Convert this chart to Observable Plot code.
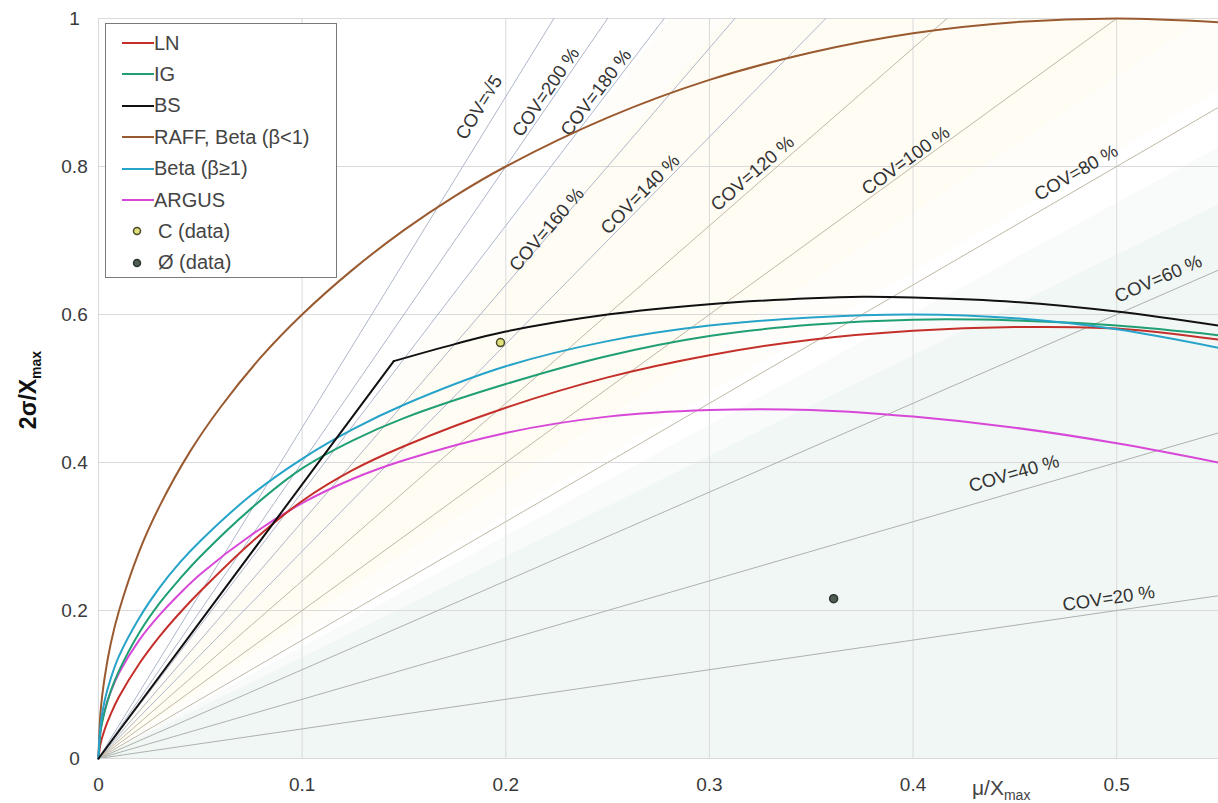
<!DOCTYPE html>
<html><head><meta charset="utf-8">
<script src="https://cdn.jsdelivr.net/npm/d3@7"></script>
<script src="https://cdn.jsdelivr.net/npm/@observablehq/plot@0.6"></script>
<style>
body{margin:0;background:#fff;font-family:"Liberation Sans",Arial,sans-serif;}
#wrap{position:relative;width:1218px;height:803px;overflow:hidden;}
#legend{position:absolute;left:105px;top:23px;width:232px;height:255px;border:1px solid #7a7a7a;background:#fff;box-sizing:border-box;}
.row{position:absolute;left:0;height:22px;display:flex;align-items:center;font-size:20px;color:#444;white-space:nowrap;}
</style></head><body><div id="wrap"><div id="legend"></div></div>
<script>
// ---- data ----
const xTicks = [0, 0.1, 0.2, 0.3, 0.4, 0.5];
const yTicks = [0, 0.2, 0.4, 0.6, 0.8, 1];

const covValues = [Math.sqrt(5), 2.0, 1.8, 1.6, 1.4, 1.2, 1.0, 0.8, 0.6, 0.4, 0.2];
const covLabels = ["COV=√5", "COV=200 %", "COV=180 %", "COV=160 %", "COV=140 %", "COV=120 %",
                   "COV=100 %", "COV=80 %", "COV=60 %", "COV=40 %", "COV=20 %"];
const covLabelAt = [0.194, 0.2234, 0.2479, 0.222, 0.2692, 0.3247, 0.399, 0.4838, 0.5236, 0.452, 0.497];
const covLabelOffset = [17, 9, 9, 5, 9, 11, 9, 15, 16, 18, 13];

const seriesNames = ["LN", "IG", "BS", "RAFF, Beta (β<1)", "Beta (β≥1)", "ARGUS"];
const seriesColors = ["#c42f2a", "#1f9f73", "#111111", "#9a5a30", "#26a3c8", "#d848d8"];

const gridX1 = [0, 0.001, 0.003, 0.006, 0.01, 0.02, 0.03, 0.04, 0.05, 0.075, 0.1, 0.125, 0.15, 0.2, 0.25, 0.3, 0.35, 0.4, 0.45, 0.5, 0.55];
const lnY    = [0, 0.02, 0.039, 0.06, 0.083, 0.128, 0.165, 0.197, 0.226, 0.292, 0.348, 0.39, 0.422, 0.474, 0.515, 0.545, 0.566, 0.578, 0.583, 0.581, 0.566];
const igY    = [0, 0.036, 0.063, 0.091, 0.118, 0.17, 0.21, 0.243, 0.273, 0.338, 0.392, 0.43, 0.46, 0.506, 0.544, 0.571, 0.586, 0.593, 0.592, 0.585, 0.572];
const betaY  = [0, 0.045, 0.078, 0.108, 0.138, 0.19, 0.231, 0.265, 0.294, 0.356, 0.405, 0.445, 0.478, 0.53, 0.564, 0.585, 0.596, 0.600, 0.595, 0.580, 0.555];
const argusY = [0, 0.038, 0.065, 0.09, 0.115, 0.16, 0.194, 0.223, 0.249, 0.302, 0.345, 0.378, 0.403, 0.44, 0.462, 0.471, 0.471, 0.462, 0.447, 0.426, 0.40];

const raffX = [0, 0.001, 0.003, 0.006, 0.01, 0.02, 0.03, 0.045, 0.06, 0.08, 0.1, 0.125, 0.15, 0.175, 0.2, 0.25, 0.3, 0.35, 0.4, 0.45, 0.5, 0.55];
const raffY = [0, 0.063, 0.109, 0.155, 0.199, 0.28, 0.341, 0.415, 0.475, 0.543, 0.6, 0.661, 0.714, 0.76, 0.8, 0.866, 0.917, 0.954, 0.98, 0.995, 1.0, 0.995];

const bsLineX = [0, 0.145];
const bsLineY = [0, 0.537];
const bsCurveX = [0.145, 0.175, 0.2, 0.25, 0.3, 0.35, 0.375, 0.4, 0.45, 0.5, 0.55];
const bsCurveY = [0.537, 0.56, 0.577, 0.6, 0.614, 0.622, 0.624, 0.623, 0.617, 0.604, 0.585];

const pointNames = ["C (data)", "Ø (data)"];
const pointX = [0.1974, 0.361];
const pointY = [0.562, 0.216];
const pointFill = ["#dfe07a", "#4e5c52"];
const pointStroke = ["#4a4a2a", "#2c3630"];

// shaded COV bands (low COV, high COV, fill, opacity)
const bandLow  = [0.0, 0.68, 0.82, 0.92, 1.62];
const bandHigh = [0.68, 0.75, 0.92, 1.62, 1.78];
const bandFill = ["#f1f7f4", "#f1f7f4", "#fffcf4", "#fffcf4", "#fffcf4"];
const bandOpacity = [1, 0.5, 0.5, 1, 0.5];

// ---- layout ----
const W = 1218, H = 803, mL = 98, mR = 0, mT = 18, mB = 45;
const xMax = 0.55;
const kx = (W - mL - mR) / xMax, ky = (H - mT - mB);
const FONT = "'Liberation Sans', Arial, sans-serif";

const zip = (xs, ys) => xs.map((x, i) => ({x, y: ys[i]}));
const xEnds = [0, xMax];

const marks = [];
bandLow.forEach((lo, i) => {
  marks.push(Plot.areaY(xEnds.map(x => ({x, y1: 2 * lo * x, y2: 2 * bandHigh[i] * x})),
    {x: "x", y1: "y1", y2: "y2", fill: bandFill[i], fillOpacity: bandOpacity[i], clip: true}));
});
marks.push(Plot.gridX(xTicks, {stroke: "#dadada", strokeOpacity: 1}));
marks.push(Plot.gridY(yTicks, {stroke: "#dadada", strokeOpacity: 1}));

const covColor = c => c >= 1.39 ? "#adb6c9" : c >= 0.79 ? "#c0b8a5" : "#aeb2ab";
const covRows = covValues.flatMap((c, i) => xEnds.map(x => ({cov: i, x, y: 2 * c * x, color: covColor(c)})));
marks.push(Plot.line(covRows, {x: "x", y: "y", z: "cov", stroke: "color", strokeWidth: 1, clip: true}));

covValues.forEach((c, i) => {
  const th = Math.atan(2 * c * ky / kx);
  const off = covLabelOffset[i];
  marks.push(Plot.text([{x: covLabelAt[i], y: 2 * c * covLabelAt[i], t: covLabels[i]}], {
    x: "x", y: "y", text: "t", rotate: -th * 180 / Math.PI,
    dx: -off * Math.sin(th), dy: -off * Math.cos(th),
    fontSize: 18.5, fill: "#333", fontFamily: FONT
  }));
});

const curveOpts = (color) => ({x: "x", y: "y", stroke: color, strokeWidth: 2, curve: "catmull-rom"});
marks.push(Plot.line(zip(raffX, raffY), curveOpts(seriesColors[3])));
marks.push(Plot.line(zip(gridX1, argusY), curveOpts(seriesColors[5])));
marks.push(Plot.line(zip(gridX1, lnY), curveOpts(seriesColors[0])));
marks.push(Plot.line(zip(gridX1, igY), curveOpts(seriesColors[1])));
marks.push(Plot.line(zip(gridX1, betaY), curveOpts(seriesColors[4])));
marks.push(Plot.line(zip(bsLineX, bsLineY), {x: "x", y: "y", stroke: seriesColors[2], strokeWidth: 2}));
marks.push(Plot.line(zip(bsCurveX, bsCurveY), curveOpts(seriesColors[2])));

const pts = pointX.map((x, i) => ({x, y: pointY[i], fill: pointFill[i], stroke: pointStroke[i]}));
marks.push(Plot.dot(pts, {x: "x", y: "y", r: 4, fill: "fill", stroke: "stroke", strokeWidth: 1.5}));

const fmt = d => String(d);
marks.push(Plot.axisX(xTicks, {tickSize: 0, tickPadding: 19, fontSize: 19, fill: "#3a3a3a", label: null, tickFormat: fmt,
  fontFamily: "'Liberation Sans Narrow', 'Arial Narrow', " + FONT}));
marks.push(Plot.axisY(yTicks, {tickSize: 0, tickPadding: 24, textAnchor: "middle", fontSize: 19, fill: "#3a3a3a", label: null, tickFormat: fmt,
  fontFamily: FONT}));

const chart = Plot.plot({
  width: W, height: H,
  marginLeft: mL, marginRight: mR, marginTop: mT, marginBottom: mB,
  x: {domain: [0, xMax]},
  y: {domain: [0, 1]},
  style: {fontFamily: FONT, fontSize: "15px", background: "transparent", overflow: "visible"},
  marks
});
document.getElementById("wrap").prepend(chart);

// axis titles with subscripts
const svg = d3.select(chart);
const yl = svg.append("text").attr("transform", "translate(36,390) rotate(-90)")
  .attr("text-anchor", "middle").attr("font-weight", "bold").attr("font-size", 23).attr("fill", "#111")
  .attr("font-family", FONT);
yl.append("tspan").text("2σ/X");
yl.append("tspan").attr("font-size", 14).attr("dy", 5).text("max");
const xl = svg.append("text").attr("transform", "translate(972,795)")
  .attr("text-anchor", "start").attr("font-size", 21).attr("fill", "#444").attr("font-family", FONT);
xl.append("tspan").text("μ/X");
xl.append("tspan").attr("font-size", 14).attr("dy", 5).text("max");

// legend
const legend = d3.select("#legend");
const rowTop = i => 8 + i * 31.4;
seriesNames.forEach((n, i) => {
  const r = legend.append("div").attr("class", "row").style("top", rowTop(i) + "px").style("left", "16px");
  r.append("svg").attr("width", 32).attr("height", 22)
    .append("line").attr("x1", 0).attr("x2", 32).attr("y1", 11).attr("y2", 11)
    .attr("stroke", seriesColors[i]).attr("stroke-width", 2);
  r.append("span").text(n);
});
pointNames.forEach((n, i) => {
  const r = legend.append("div").attr("class", "row").style("top", rowTop(6 + i) + "px").style("left", "25px");
  r.append("svg").attr("width", 27).attr("height", 22)
    .append("circle").attr("cx", 6).attr("cy", 11).attr("r", 3.5)
    .attr("fill", pointFill[i]).attr("stroke", pointStroke[i]).attr("stroke-width", 1.5);
  r.append("span").text(n);
});
</script></body></html>
